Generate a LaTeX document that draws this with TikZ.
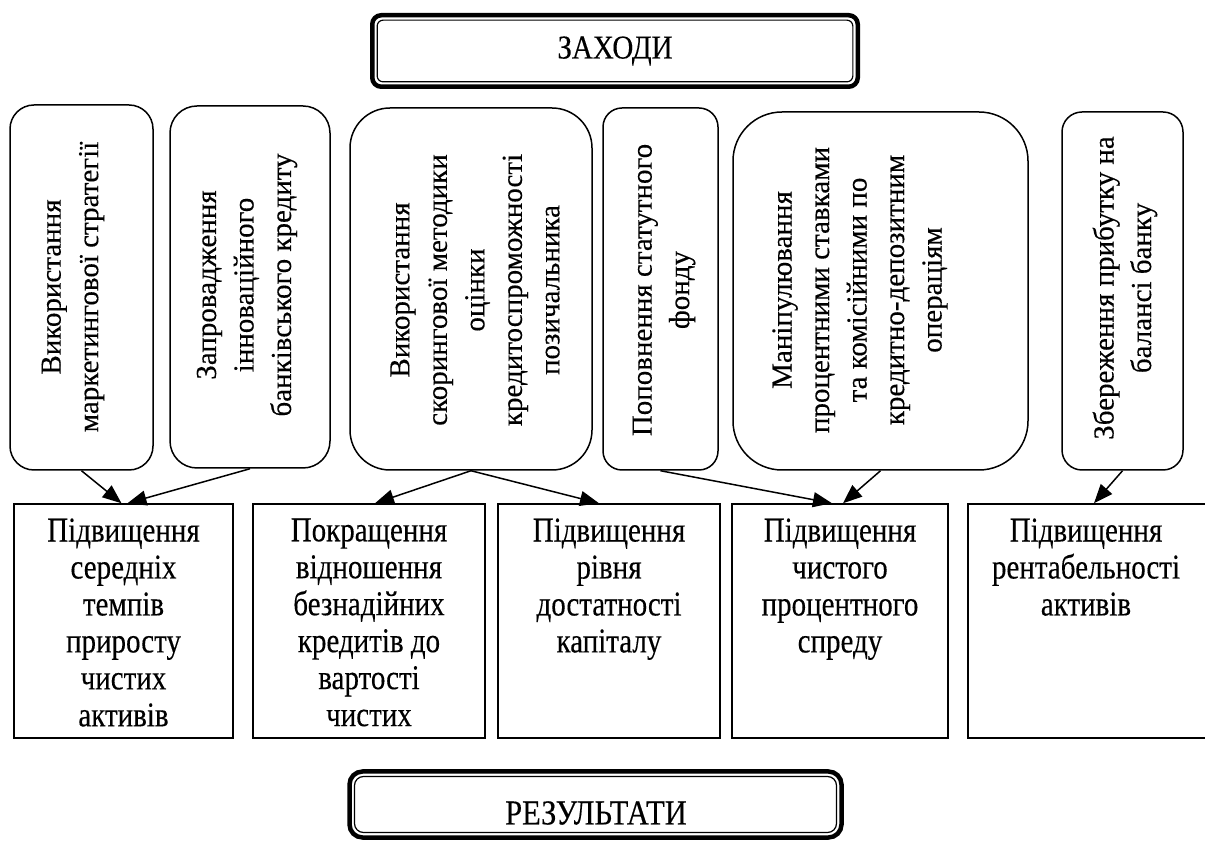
\documentclass[tikz,border=0pt]{standalone}
\usepackage{fontspec}
\setmainfont{Liberation Serif}[FakeBold=0.3]
\usetikzlibrary{arrows.meta,calc}
\newcommand\tightlines{\lineskiplimit=-100pt\relax}
\begin{document}
\begin{tikzpicture}[x=1pt,y=1pt,
  vtxt/.style={font={\fontsize{29}{37.5}\selectfont}, align=center, inner sep=0pt, rotate=90},
  htxt/.style={font={\fontsize{29}{30.8}\selectfont\tightlines},
    align=center, inner sep=0pt, yscale=1.2, anchor=north},
  ttl/.style={font={\fontsize{29}{30}\selectfont}, inner sep=0pt, yscale=1.15},
  mbox/.style={draw, line width=1.5pt, inner sep=0pt},
  rbox/.style={draw, line width=1.5pt, inner sep=0pt},
  frame/.style={draw, line width=4.5pt, inner sep=0pt, outer sep=0pt},
  inframe/.style={draw, line width=1.2pt},
  link/.style={line width=1.5pt, -{Triangle[length=19pt,width=15pt]}}
]
\useasboundingbox (0,0) rectangle (1205,841);

% header frame
\node[frame, minimum width=485.5pt, minimum height=71.5pt, rounded corners=9pt]
  (zah) at (615,790) {};
\draw[inframe, rounded corners=6pt] ($(zah.north west)+(4.9,-4.9)$) rectangle ($(zah.south east)+(-4.9,4.9)$);
\node[ttl] (zaht) at (615,790) {ЗАХОДИ};

% measures (rounded boxes)
\node[mbox, minimum width=143pt, minimum height=365pt, rounded corners=24pt] (m1) at (81.5,553.5) {};
\node[mbox, minimum width=160pt, minimum height=362pt, rounded corners=27pt] (m2) at (250,554) {};
\node[mbox, minimum width=242pt, minimum height=362pt, rounded corners=40pt] (m3) at (471,552) {};
\node[mbox, minimum width=115pt, minimum height=362pt, rounded corners=19pt] (m4) at (660.5,552) {};
\node[mbox, minimum width=295pt, minimum height=358pt, rounded corners=49pt] (m5) at (880.5,550) {};
\node[mbox, minimum width=121pt, minimum height=358pt, rounded corners=20pt] (m6) at (1122.5,550) {};

\node[vtxt] (t1) at (73,554) {Використання\\маркетингової стратегії};
\node[vtxt] (t2) at (247,556) {Запровадження\\інноваційного\\банківського кредиту};
\node[vtxt] (t3) at (475,551) {Використання\\скорингової методики\\оцінки\\кредитоспроможності\\позичальника};
\node[vtxt] (t4) at (664,551) {Поповнення статутного\\фонду};
\node[vtxt] (t5) at (860,551) {Маніпулювання\\процентними ставками\\та комісійними по\\кредитно-депозитним\\операціям};
\node[vtxt] (t6) at (1125,553) {Збереження прибутку на\\балансі банку};

% results (plain boxes)
\node[rbox, minimum width=219pt, minimum height=234pt] (r1) at (123.5,220) {};
\node[rbox, minimum width=232pt, minimum height=234pt] (r2) at (369,220) {};
\node[rbox, minimum width=222pt, minimum height=234pt] (r3) at (609,220) {};
\node[rbox, minimum width=216pt, minimum height=234pt] (r4) at (840,220) {};
\node[rbox, minimum width=242pt, minimum height=234pt] (r5) at (1089,220) {};

\node[htxt] (s1) at ($(r1.north)+(0,-15)$) {Підвищення\\середніх\\темпів\\приросту\\чистих\\активів};
\node[htxt] (s2) at ($(r2.north)+(0,-15)$) {Покращення\\відношення\\безнадійних\\кредитів до\\вартості\\чистих};
\node[htxt] (s3) at ($(r3.north)+(0,-15)$) {Підвищення\\рівня\\достатності\\капіталу};
\node[htxt] (s4) at ($(r4.north)+(0,-15)$) {Підвищення\\чистого\\процентного\\спреду};
\node[htxt] (s5) at ($(r5.north)+(-3,-15)$) {Підвищення\\рентабельності\\активів};

% footer frame
\node[frame, minimum width=492pt, minimum height=66pt, rounded corners=13pt]
  (res) at (595.5,36.5) {};
\draw[inframe, rounded corners=9pt] ($(res.north west)+(5,-5)$) rectangle ($(res.south east)+(-5,5)$);
\node[ttl, font={\fontsize{30.5}{31}\selectfont}] (rest) at (596,28) {РЕЗУЛЬТАТИ};

% links
\draw[link] (m1.south) -- ($(r1.north)+(-2,0)$);
\draw[link] (m2.south) -- ($(r1.north)+(4,0)$);
\draw[link] (m3.south) -- ($(r2.north)+(6,0)$);
\draw[link] (m3.south) -- ($(r3.north)+(-10,0)$);
\draw[link] (m4.south) -- ($(r4.north)+(-8,0)$);
\draw[link] (m5.south) -- ($(r4.north)+(3,0)$);
\draw[link] (m6.south) -- ($(r5.north)+(5,0)$);
\end{tikzpicture}
\end{document}
